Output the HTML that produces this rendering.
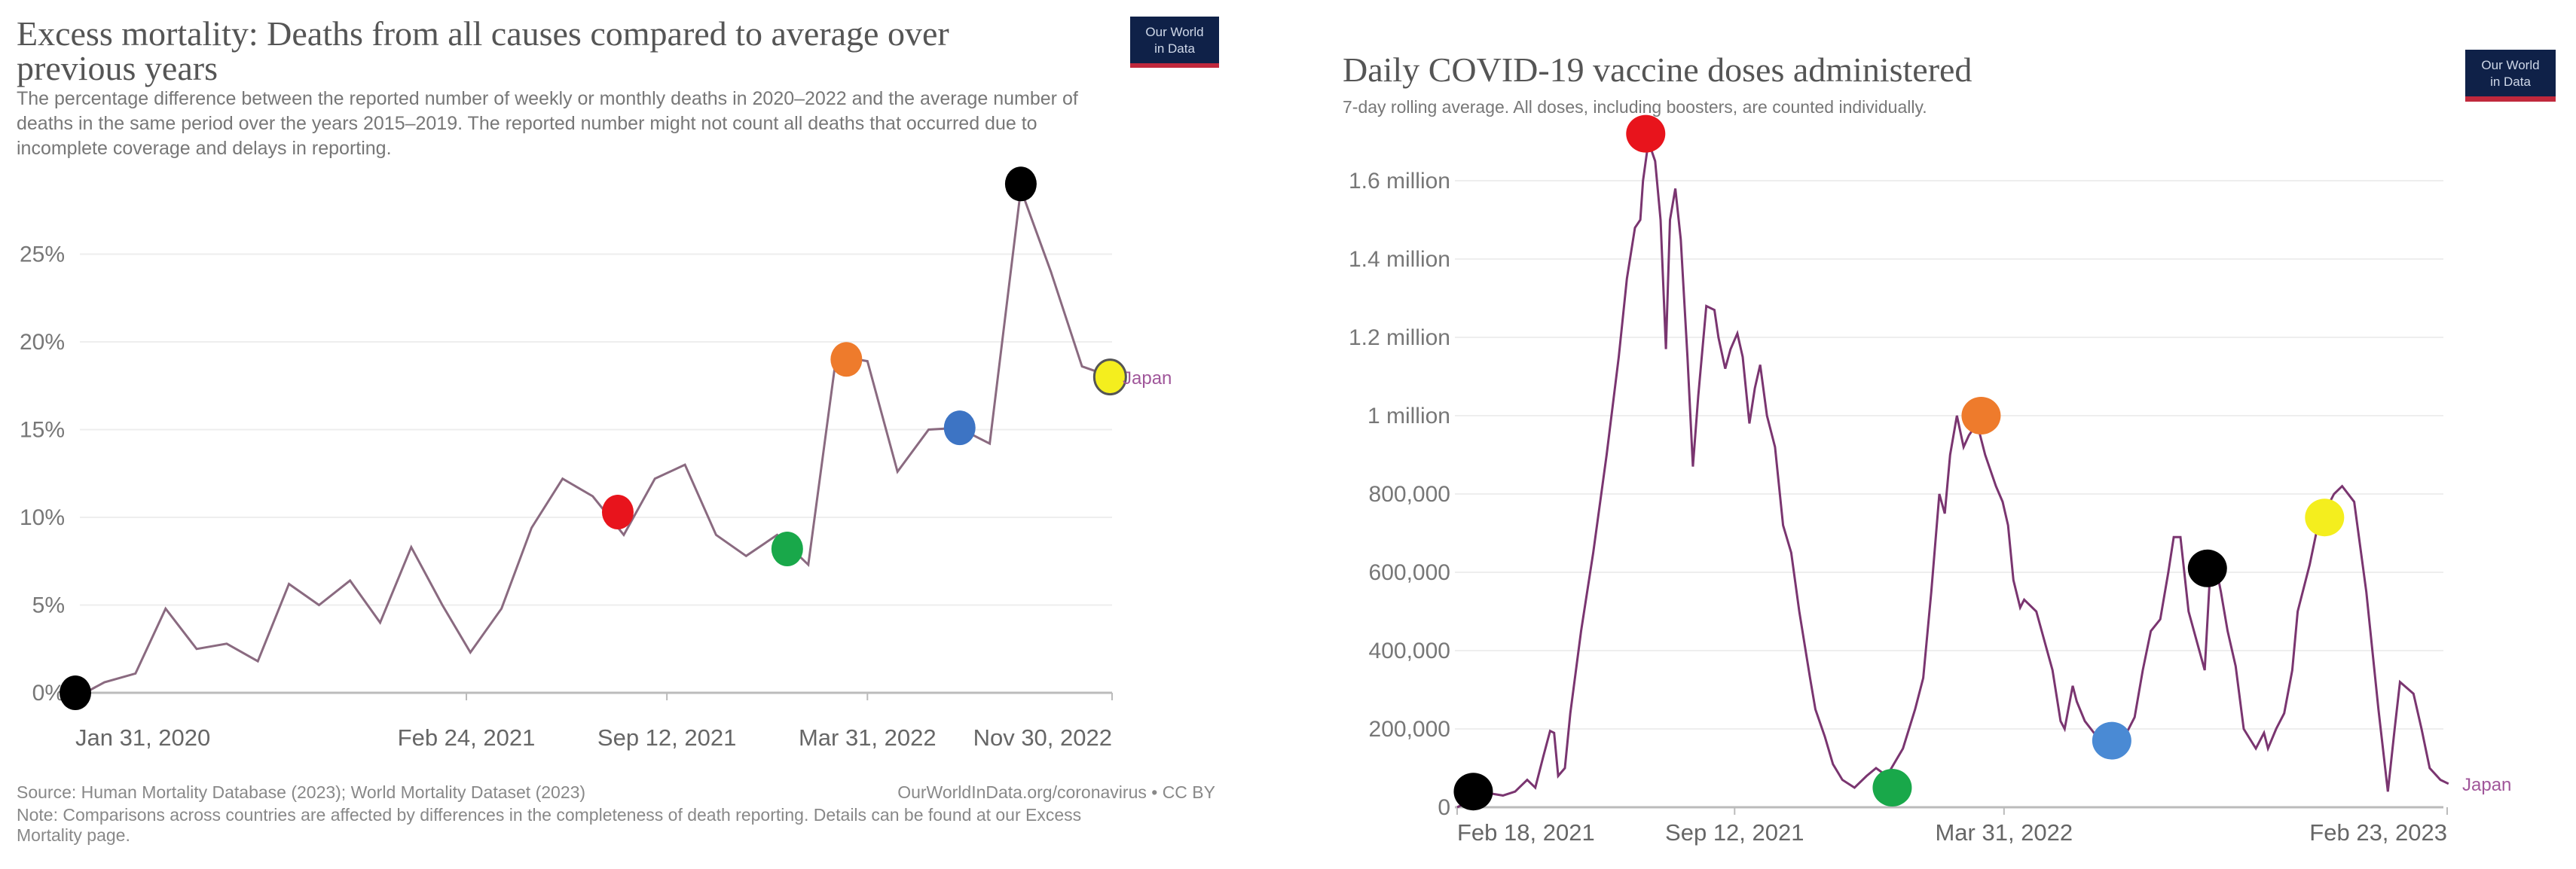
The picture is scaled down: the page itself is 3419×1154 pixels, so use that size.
<!DOCTYPE html>
<html><head><meta charset="utf-8"><style>
html,body{margin:0;padding:0;background:#fff;}
svg{display:block;font-family:"Liberation Sans",sans-serif;}
.serif{font-family:"Liberation Serif",serif;}
</style></head><body>
<svg id="s" width="3419" height="1154" viewBox="0 0 3419 1154" xmlns="http://www.w3.org/2000/svg">
<g>
<text class="serif" x="22" y="60" font-size="46" fill="#555">Excess mortality: Deaths from all causes compared to average over</text>
<text class="serif" x="22" y="106" font-size="46" fill="#555">previous years</text>
<text x="22" y="139" font-size="25" fill="#777">The percentage difference between the reported number of weekly or monthly deaths in 2020–2022 and the average number of</text>
<text x="22" y="172" font-size="25" fill="#777">deaths in the same period over the years 2015–2019. The reported number might not count all deaths that occurred due to</text>
<text x="22" y="205" font-size="25" fill="#777">incomplete coverage and delays in reporting.</text>
<g><rect x="1500" y="22" width="118" height="66" fill="#0f2148"/><rect x="1500" y="84" width="118" height="6" fill="#c0283c"/><text x="1559" y="48" font-size="17" fill="#cfd8e8" text-anchor="middle">Our World</text><text x="1559" y="70" font-size="17" fill="#cfd8e8" text-anchor="middle">in Data</text></g>
<g id="L"></g>
<text x="22" y="1060" font-size="23" fill="#888">Source: Human Mortality Database (2023); World Mortality Dataset (2023)</text>
<text x="1613" y="1060" font-size="23" fill="#888" text-anchor="end">OurWorldInData.org/coronavirus • CC BY</text>
<text x="22" y="1090" font-size="23" fill="#888">Note: Comparisons across countries are affected by differences in the completeness of death reporting. Details can be found at our Excess</text>
<text x="22" y="1117" font-size="23" fill="#888">Mortality page.</text>
</g>
<g>
<text class="serif" x="1782" y="108" font-size="46" fill="#555">Daily COVID-19 vaccine doses administered</text>
<text x="1782" y="150" font-size="23" fill="#777">7-day rolling average. All doses, including boosters, are counted individually.</text>
<g><rect x="3272" y="66" width="120" height="64" fill="#0f2148"/><rect x="3272" y="128" width="120" height="7" fill="#c0283c"/><text x="3332" y="92" font-size="17" fill="#cfd8e8" text-anchor="middle">Our World</text><text x="3332" y="114" font-size="17" fill="#cfd8e8" text-anchor="middle">in Data</text></g>
<g id="R"></g>
</g>
</svg>
<script>
// ---- Left chart data (monthly excess mortality %, Jan 2020 .. Nov 2022)
const mortMonths = ["2020-01-31","2020-02-29","2020-03-31","2020-04-30","2020-05-31","2020-06-30","2020-07-31","2020-08-31","2020-09-30","2020-10-31","2020-11-30","2020-12-31","2021-01-31","2021-02-28","2021-03-31","2021-04-30","2021-05-31","2021-06-30","2021-07-31","2021-08-31","2021-09-30","2021-10-31","2021-11-30","2021-12-31","2022-01-31","2022-02-28","2022-03-31","2022-04-30","2022-05-31","2022-06-30","2022-07-31","2022-08-31","2022-09-30","2022-10-31","2022-11-30"];
const mortValues = [-0.3,0.6,1.1,4.8,2.5,2.8,1.8,6.2,5.0,6.4,4.0,8.3,5.0,2.3,4.8,9.4,12.2,11.2,9.0,12.2,13.0,9.0,7.8,9.0,7.3,19.2,18.9,12.6,15.0,15.1,14.2,28.7,24.0,18.6,18.0];
const mortYTicks = [0,5,10,15,20,25];
const mortXTicks = ["2020-01-31","2021-02-24","2021-09-12","2022-03-31","2022-11-30"];
const mortXLabels = ["Jan 31, 2020","Feb 24, 2021","Sep 12, 2021","Mar 31, 2022","Nov 30, 2022"];
const mortMarks = [["2020-01-31",0,"#000"],["2021-07-25",10.3,"#e8141c"],["2022-01-10",8.2,"#19a84a"],["2022-03-10",19.0,"#ee7b2c"],["2022-07-01",15.1,"#3d74c4"],["2022-08-31",29.0,"#000"],["2022-11-28",18.0,"#f4ee1e"]];

// ---- Right chart data (7-day avg doses, thousands; day offset from 2021-02-18)
const vacDays = [0,12,25,34,43,52,58,64,69,72,75,80,84,92,101,111,120,126,132,136,138,142,147,151,155,158,162,166,171,175,179,185,191,194,199,203,208,212,217,221,225,230,236,242,248,254,262,266,273,279,286,295,304,311,319,331,340,346,352,358,362,366,371,376,380,386,392,400,405,409,413,418,421,430,442,448,451,457,460,466,475,485,494,503,509,515,522,528,532,537,543,555,559,563,567,572,578,584,593,599,602,608,614,620,624,633,639,645,651,657,666,675,684,691,696,700,710,716,722,730,736,742];
const vacValues = [0,20,35,30,40,70,50,130,195,190,80,100,240,450,650,900,1150,1350,1480,1500,1600,1700,1650,1500,1170,1500,1580,1450,1150,870,1050,1280,1270,1200,1120,1170,1210,1150,980,1070,1130,1000,920,720,650,500,330,250,180,110,70,50,80,100,80,150,250,330,550,800,750,900,1000,920,950,980,900,820,780,720,580,510,530,500,350,220,200,310,270,220,180,160,170,230,350,450,480,600,690,690,500,350,600,620,550,450,360,200,150,190,150,200,240,350,500,620,720,760,800,820,780,550,250,40,200,320,290,200,100,70,60];
const vacYTicks = [0,200,400,600,800,1000,1200,1400,1600];
const vacYLabels = ["0","200,000","400,000","600,000","800,000","1 million","1.2 million","1.4 million","1.6 million"];
const vacXTicks = ["2021-02-18","2021-09-12","2022-03-31","2023-02-23"];
const vacXLabels = ["Feb 18, 2021","Sep 12, 2021","Mar 31, 2022","Feb 23, 2023"];
const vacMarks = [[12,40,"#000"],[140,1720,"#e8141c"],[323,50,"#19a84a"],[389,1000,"#ee7b2c"],[486,170,"#4a8ad4"],[557,610,"#000"],[644,740,"#f4ee1e"]];

const NS="http://www.w3.org/2000/svg";
function mk(p,t,a){const e=document.createElementNS(NS,t);for(const k in a)e.setAttribute(k,a[k]);p.appendChild(e);return e;}
const day=s=>Date.parse(s+"T00:00:00Z")/864e5;

// Left axes
const L=document.getElementById('L');
const lx0=day("2020-01-31"),lx1=day("2022-11-30");
const lx=d=>100+(day(d)-lx0)/(lx1-lx0)*1376;
const ly=v=>920-v*23.3;
mortYTicks.forEach(t=>{
  const g=mk(L,'line',{x1:106,x2:1476,y1:ly(t),y2:ly(t),stroke:t===0?'#bbb':'#eee','stroke-width':t===0?3:2});
  
  
  const tx=mk(L,'text',{x:86,y:ly(t)+10,'font-size':30,fill:'#777','text-anchor':'end'});tx.textContent=t+'%';
  
  
});
mortXTicks.forEach((d,i)=>{
  const x=lx(d);
  mk(L,'line',{x1:x,x2:x,y1:920,y2:930,stroke:'#bbb','stroke-width':2});
  const anc=i===0?'start':(i===mortXTicks.length-1?'end':'middle');
  const tx=mk(L,'text',{x:x,y:990,'font-size':31,fill:'#666','text-anchor':anc});tx.textContent=mortXLabels[i];
  
  
});
const lp=mk(L,'path',{d:mortMonths.map((d,i)=>(i?'L':'M')+lx(d).toFixed(1)+','+ly(mortValues[i]).toFixed(1)).join(''),fill:'none',stroke:'#8a6a80','stroke-width':3});


mortMarks.forEach(m=>{
  const e=mk(L,'ellipse',{cx:lx(m[0]),cy:ly(m[1]),rx:21,ry:23,fill:m[2],stroke:m[2]==='#f4ee1e'?'#555':'none','stroke-width':3});
  
  
});
const lj=mk(L,'text',{x:1490,y:510,'font-size':24,fill:'#a0569a'});lj.textContent='Japan';



// Right axes
const R=document.getElementById('R');
const rx0=day("2021-02-18"),rx1=day("2023-02-23");
const rxd=n=>1934+n/(rx1-rx0)*1314;
const ry=v=>1072-v*0.52;
vacYTicks.forEach((t,i)=>{
  const g=mk(R,'line',{x1:1931,x2:3243,y1:ry(t),y2:ry(t),stroke:t===0?'#bbb':'#eee','stroke-width':t===0?3:2});
  
  
  const tx=mk(R,'text',{x:1925,y:ry(t)+10,'font-size':30,fill:'#777','text-anchor':'end'});tx.textContent=vacYLabels[i];
  
  
});
vacXTicks.forEach((d,i)=>{
  const x=rxd(day(d)-rx0);
  mk(R,'line',{x1:x,x2:x,y1:1072,y2:1082,stroke:'#bbb','stroke-width':2});
  const anc=i===0?'start':(i===vacXTicks.length-1?'end':'middle');
  const tx=mk(R,'text',{x:x,y:1116,'font-size':31,fill:'#666','text-anchor':anc});tx.textContent=vacXLabels[i];
  
  
});
const rp=mk(R,'path',{d:vacDays.map((d,i)=>(i?'L':'M')+rxd(d).toFixed(1)+','+ry(vacValues[i]).toFixed(1)).join(''),fill:'none',stroke:'#7a3570','stroke-width':3});


vacMarks.forEach(m=>{
  const e=mk(R,'ellipse',{cx:rxd(m[0]),cy:ry(m[1]),rx:26,ry:25,fill:m[2]});
  
  
});
const rj=mk(R,'text',{x:3268,y:1050,'font-size':24,fill:'#a0569a'});rj.textContent='Japan';


</script>
</body></html>
